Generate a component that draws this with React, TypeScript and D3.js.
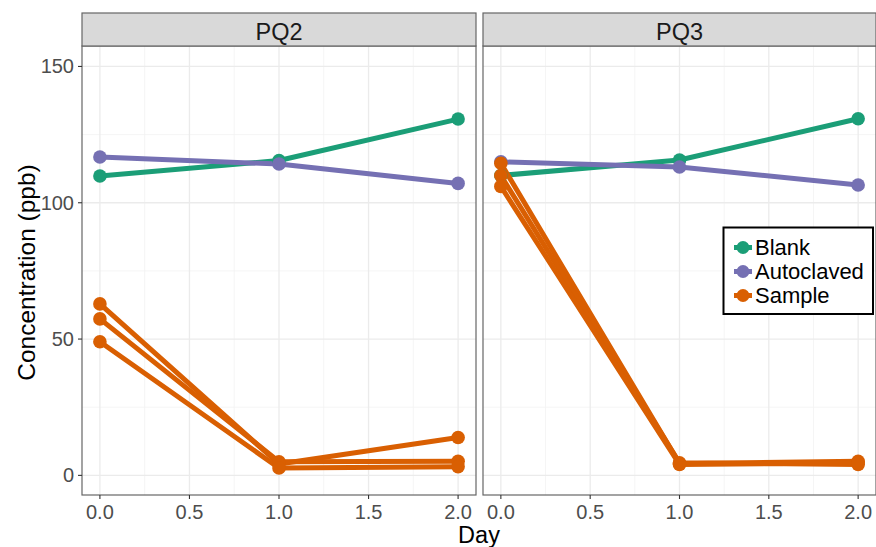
import React from "react";
import * as d3 from "d3";

const panels = ["PQ2", "PQ3"];
const days = [0, 1, 2];
const seriesNames = ["Blank", "Autoclaved", "Sample"];
const seriesColors = ["#1B9E77", "#7570B3", "#D95F02"];

// each line: panel, series, values at days 0,1,2
const pq2Blank = [109.8, 115.5, 130.7];
const pq2Auto = [116.8, 114.2, 107.1];
const pq2SampleA = [62.9, 4.2, 13.9];
const pq2SampleB = [57.4, 5.0, 5.2];
const pq2SampleC = [49.0, 2.7, 3.2];
const pq3Blank = [110.0, 115.7, 130.8];
const pq3Auto = [115.0, 113.1, 106.5];
const pq3SampleA = [114.5, 4.3, 5.2];
const pq3SampleB = [110.0, 4.6, 4.0];
const pq3SampleC = [106.0, 4.0, 4.6];

const lines = [
  { panel: "PQ2", series: "Blank", values: pq2Blank },
  { panel: "PQ2", series: "Autoclaved", values: pq2Auto },
  { panel: "PQ2", series: "Sample", values: pq2SampleA },
  { panel: "PQ2", series: "Sample", values: pq2SampleB },
  { panel: "PQ2", series: "Sample", values: pq2SampleC },
  { panel: "PQ3", series: "Blank", values: pq3Blank },
  { panel: "PQ3", series: "Autoclaved", values: pq3Auto },
  { panel: "PQ3", series: "Sample", values: pq3SampleA },
  { panel: "PQ3", series: "Sample", values: pq3SampleB },
  { panel: "PQ3", series: "Sample", values: pq3SampleC },
];

const xTicks = [0, 0.5, 1, 1.5, 2];
const xMinor = [0.25, 0.75, 1.25, 1.75];
const yTicks = [0, 50, 100, 150];
const yMinor = [25, 75, 125];

const W = 876;
const H = 547;
const panelX = [[82, 476], [483, 876]];
const stripTop = 13;
const stripBottom = 46;
const plotBottom = 495;

const color = d3.scaleOrdinal<string, string>().domain(seriesNames).range(seriesColors);
const y = d3.scaleLinear().domain([-7.2, 157.5]).range([plotBottom, stripBottom]);

export default function App() {
  const font = "Arial, 'Liberation Sans', sans-serif";
  return (
    <svg width={W} height={H} style={{ position: "absolute", left: 0, top: 0, background: "#fff" }} fontFamily={font}>
      {panels.map((p, pi) => {
        const [x0, x1] = panelX[pi];
        const x = d3.scaleLinear().domain([-0.1, 2.1]).range([x0, x1]);
        const line = d3.line<number>().x((_, i) => x(days[i])).y((v) => y(v));
        const pLines = lines.filter((l) => l.panel === p);
        return (
          <g key={p}>
            <rect x={x0} y={stripBottom} width={x1 - x0} height={plotBottom - stripBottom} fill="#fff" />
            {yMinor.map((t) => (
              <line key={"ym" + t} x1={x0} x2={x1} y1={y(t)} y2={y(t)} stroke="#F2F2F2" strokeWidth={0.8} />
            ))}
            {xMinor.map((t) => (
              <line key={"xm" + t} x1={x(t)} x2={x(t)} y1={stripBottom} y2={plotBottom} stroke="#F2F2F2" strokeWidth={0.8} />
            ))}
            {yTicks.map((t) => (
              <line key={"yM" + t} x1={x0} x2={x1} y1={y(t)} y2={y(t)} stroke="#EBEBEB" strokeWidth={1.3} />
            ))}
            {xTicks.map((t) => (
              <line key={"xM" + t} x1={x(t)} x2={x(t)} y1={stripBottom} y2={plotBottom} stroke="#EBEBEB" strokeWidth={1.3} />
            ))}
            {pLines.map((l, i) => (
              <path key={"l" + i} d={line(l.values) || ""} fill="none" stroke={color(l.series)} strokeWidth={5} strokeLinejoin="round" />
            ))}
            {pLines.map((l, i) =>
              l.values.map((v, j) => (
                <circle key={"c" + i + "-" + j} cx={x(days[j])} cy={y(v)} r={6.8} fill={color(l.series)} />
              ))
            )}
            <rect x={x0} y={stripBottom} width={x1 - x0} height={plotBottom - stripBottom} fill="none" stroke="#666" strokeWidth={1.2} />
            <rect x={x0} y={stripTop} width={x1 - x0} height={stripBottom - stripTop} fill="#D9D9D9" stroke="#666" strokeWidth={1.2} />
            <text x={(x0 + x1) / 2} y={40} textAnchor="middle" fontSize={23.5} fill="#1A1A1A">
              {p}
            </text>
            {xTicks.map((t) => (
              <g key={"xt" + t}>
                <line x1={x(t)} x2={x(t)} y1={plotBottom} y2={plotBottom + 4} stroke="#333" strokeWidth={1.1} />
                <text x={x(t)} y={519} textAnchor="middle" fontSize={20} fill="#4D4D4D">
                  {d3.format(".1f")(t)}
                </text>
              </g>
            ))}
            {pi === 0 &&
              yTicks.map((t) => (
                <g key={"yt" + t}>
                  <line x1={x0 - 4} x2={x0} y1={y(t)} y2={y(t)} stroke="#333" strokeWidth={1.1} />
                  <text x={x0 - 8} y={y(t) + 7} textAnchor="end" fontSize={20} fill="#4D4D4D">
                    {t}
                  </text>
                </g>
              ))}
          </g>
        );
      })}
      <text x={479} y={543} textAnchor="middle" fontSize={23.5} fill="#000">
        Day
      </text>
      <text transform={`translate(35, 272.5) rotate(-90)`} textAnchor="middle" fontSize={24.5} fill="#000">
        Concentration (ppb)
      </text>
      <g>
        <rect x={723.5} y={227.5} width={149.5} height={86.5} fill="#fff" stroke="#000" strokeWidth={2} />
        {seriesNames.map((s, i) => {
          const cy = 247.5 + i * 24;
          return (
            <g key={s}>
              <line x1={734} x2={752} y1={cy} y2={cy} stroke={color(s)} strokeWidth={5} />
              <circle cx={743} cy={cy} r={6.5} fill={color(s)} />
              <text x={755} y={cy + 7.5} fontSize={22} fill="#000">
                {s}
              </text>
            </g>
          );
        })}
      </g>
    </svg>
  );
}
